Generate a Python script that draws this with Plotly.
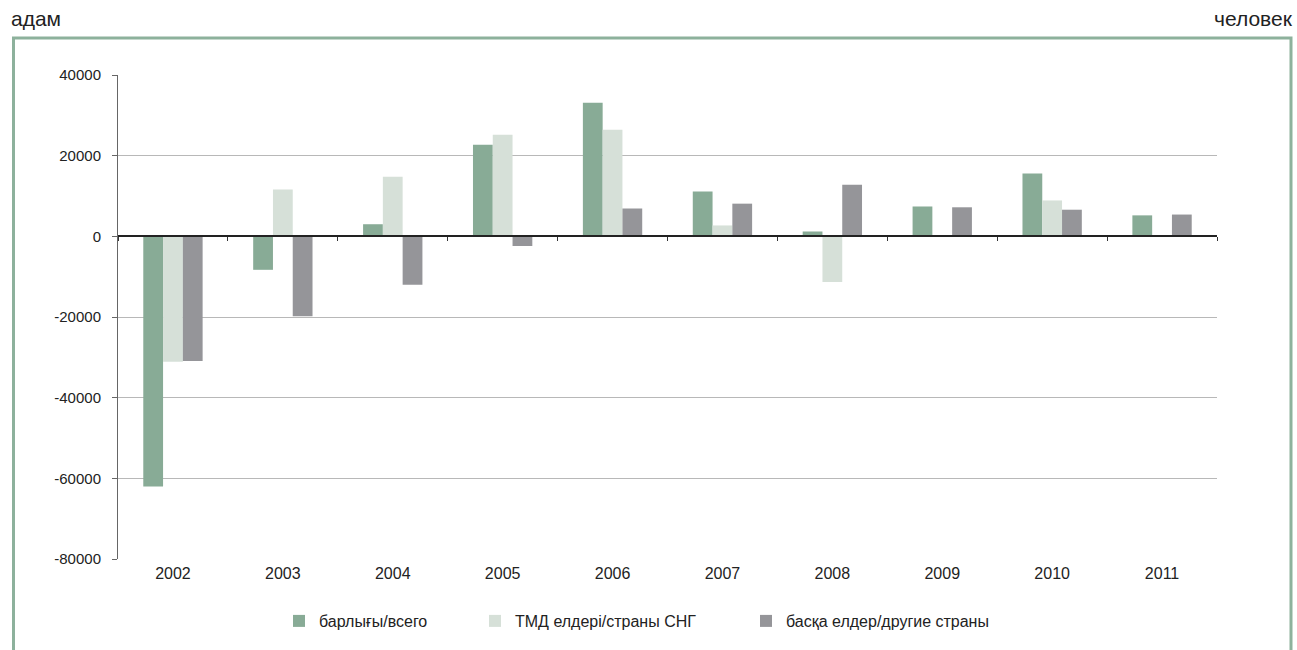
import plotly.graph_objects as go

years = ["2002", "2003", "2004", "2005", "2006", "2007", "2008", "2009", "2010", "2011"]
total = [-62000, -8300, 3000, 22700, 33100, 11100, 1200, 7400, 15600, 5200]
cis = [-31100, 11600, 14800, 25200, 26400, 2700, -11300, 200, 8900, 0]
other = [-30900, -19800, -12000, -2400, 6900, 8100, 12800, 7200, 6600, 5400]

y_ticks = [40000, 20000, 0, -20000, -40000, -60000, -80000]
y_tick_labels = ["40000", "20000", "0", "-20000", "-40000", "-60000", "-80000"]

names = ["барлығы/всего", "ТМД елдері/страны СНГ", "басқа елдер/другие страны"]
colors = ["#88ab96", "#d6e0d8", "#959599"]
series = [total, cis, other]
legend_ids = ["legend", "legend2", "legend3"]

FONT = "Liberation Sans, Arial, sans-serif"
TXT = "#222222"
W, H = 1297, 650
L, R, T, B = 118, 80, 75, 91
PW, PH = W - L - R, H - T - B


def px_x(x):
    return (x - L) / PW


def px_y(y):
    return (H - B - y) / PH


fig = go.Figure()
for name, col, vals, lg in zip(names, colors, series, legend_ids):
    fig.add_trace(go.Bar(x=years, y=vals, name=name, marker=dict(color=col, line=dict(width=0)),
                         legend=lg))

# helper trace so the zero-line axis (with boundary ticks) is drawn
fig.add_trace(go.Scatter(x=years, y=total, xaxis="x2", mode="markers",
                         marker=dict(opacity=0, size=1), showlegend=False, hoverinfo="skip"))

legend_common = dict(orientation="h", y=px_y(621), xanchor="left", yanchor="middle",
                     font=dict(size=16, color=TXT), bgcolor="rgba(0,0,0,0)")

fig.update_layout(
    width=W, height=H,
    margin=dict(l=L, r=R, t=T, b=B),
    paper_bgcolor="white", plot_bgcolor="white",
    font=dict(family=FONT, size=15, color=TXT),
    barmode="group", bargap=0.46, bargroupgap=0,
    xaxis=dict(type="category", range=[-0.5, 9.5], showgrid=False, ticks="", showline=False,
               tickfont=dict(size=16, color=TXT), ticklabelstandoff=3),
    xaxis2=dict(type="category", overlaying="x", matches="x", anchor="free", position=2/3,
                side="bottom", showticklabels=False, ticks="outside", tickson="boundaries",
                ticklen=4, tickcolor="#333333", showline=True, linecolor="#222222", linewidth=1.5,
                showgrid=False),
    yaxis=dict(range=[-80000, 40000], tickvals=y_ticks, ticktext=y_tick_labels, showgrid=True,
               gridcolor="#b8b8b8", gridwidth=1, zeroline=False,
               showline=True, linecolor="#666666", linewidth=1,
               ticks="outside", ticklen=5, tickcolor="#666666",
               tickfont=dict(size=15, color=TXT), ticklabelstandoff=8),
    legend=dict(x=px_x(279), **legend_common),
    legend2=dict(x=px_x(475), **legend_common),
    legend3=dict(x=px_x(746), **legend_common),
    shapes=[dict(type="rect", xref="paper", yref="paper",
                 x0=px_x(13.5), x1=px_x(1291), y0=px_y(700), y1=px_y(38),
                 line=dict(color="#8db19c", width=3), fillcolor="rgba(0,0,0,0)", layer="below")],
    annotations=[
        dict(text="адам", xref="paper", yref="paper", x=px_x(9), y=px_y(18),
             xanchor="left", yanchor="middle", showarrow=False,
             font=dict(size=21, color=TXT)),
        dict(text="человек", xref="paper", yref="paper", x=px_x(1295), y=px_y(18),
             xanchor="right", yanchor="middle", showarrow=False,
             font=dict(size=21, color=TXT)),
    ],
)

fig.write_html("out.html", config={"displayModeBar": False},
               post_script="document.body.style.margin='0';document.body.style.overflow='hidden';")
